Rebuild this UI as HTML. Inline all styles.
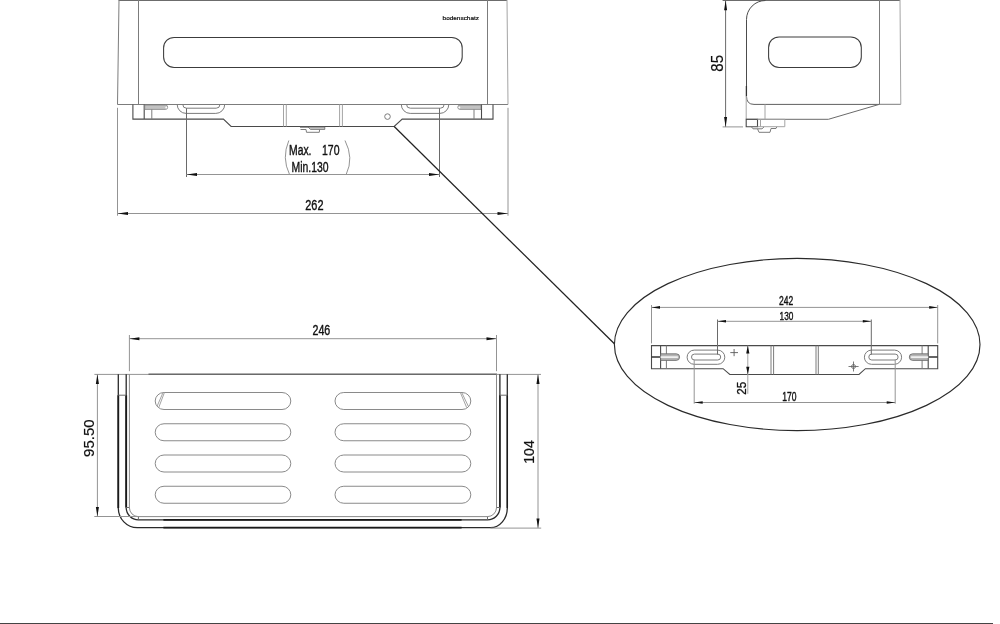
<!DOCTYPE html>
<html><head><meta charset="utf-8"><title>Drawing</title>
<style>
html,body{margin:0;padding:0;background:#fff;}
body{width:1000px;height:624px;overflow:hidden;}
svg{display:block;will-change:transform;}
text{font-family:"Liberation Sans",sans-serif;fill:#111;}
.n{stroke:#111;stroke-width:0.4;}
.r{stroke:#111;stroke-width:0.18;}
.l{stroke:#3c3c3c;stroke-width:1.05;fill:none;}
.m{stroke:#4a4a4a;stroke-width:1.1;fill:none;}
.b{stroke:#7c7c7c;stroke-width:1;fill:none;}
.d{stroke:#949494;stroke-width:1;fill:none;}
.e{stroke:#6a6a6a;stroke-width:1;fill:none;}
.s{stroke:#8a8a8a;stroke-width:1;fill:none;}
.g{stroke:#a4a4a4;stroke-width:1;fill:none;}
.a{fill:#111;stroke:none;}
</style></head><body>
<svg width="1000" height="624" viewBox="0 0 1000 624">
<rect width="1000" height="624" fill="#fff"/>
<g id="topview">
<path d="M118.700 0.500H507" stroke="#6c6c6c" stroke-width="1" fill="none"/>
<path class="b" d="M119 0L117.500 104.500H508"/>
<path class="g" d="M508 104.500L507 0"/>
<path class="b" d="M138.500 0V104.500M487.500 0V104.500"/>
<rect class="l" x="163.600" y="37.400" width="298.600" height="30.100" rx="10.500"/>
<path class="m" d="M132.900 104.500V119.100H223.400L231.100 126.500H394.200L402.200 119.100H493V104.500"/>
<path class="m" d="M144.200 104.500V119.100M481.500 104.500V119.100"/>
<path class="b" d="M151.800 109V119.100M474 109V119.100"/>
<path d="M144.700 105H165.500a2.200 2.200 0 0 1 0 4.400H144.700Z" fill="#c2c2c2" stroke="#7a7a7a" stroke-width="0.700"/>
<circle cx="166.300" cy="107.400" r="1" fill="#fff"/>
<path d="M481 105H460a2.200 2.200 0 0 0 0 4.400H481Z" fill="#c2c2c2" stroke="#7a7a7a" stroke-width="0.700"/>
<circle cx="459.300" cy="107.400" r="1" fill="#fff"/>
<path class="b" d="M177.200 104.500a8.900 8.900 0 0 0 8.900 8.900H215.800a8.900 8.900 0 0 0 8.900-8.900"/>
<path class="b" d="M182.800 104.500a3.700 3.700 0 0 0 3.700 3.700H216.200a3.700 3.700 0 0 0 3.700-3.700"/>
<path class="b" d="M401.300 104.500a8.900 8.900 0 0 0 8.900 8.900H439.900a8.900 8.900 0 0 0 8.900-8.900"/>
<path class="b" d="M406.600 104.500a3.700 3.700 0 0 0 3.700 3.700H440.400a3.700 3.700 0 0 0 3.700-3.700"/>
<path class="g" d="M283.500 104.500V126.500M286.300 104.500V126.500M339.600 104.500V126.500M342.400 104.500V126.500"/>
<circle class="b" cx="387.500" cy="116.600" r="2.800"/>
<path d="M308 127L310.500 129.400H324.800V127Z" fill="#ccc" stroke="#666" stroke-width="0.800"/>
<path class="b" d="M306 129.400L306.500 132.300H319.300L319.600 129.400M300 127.300H308M300.500 129.500H306"/>
</g>
<g id="topdims">
<path class="d" d="M117.500 107.800V215.700M508 107.800V215.700M117.500 213.500H508"/>
<path class="a" d="M117.500 213.500l10.500-1.400v2.800zM508 213.500l-10.500-1.400v2.800z"/>
<path class="e" d="M186.500 108.200V177M439.500 108.200V177"/>
<path class="d" d="M186.500 174.500H439.500"/>
<path class="a" d="M186.500 174.500l10.500-1.400v2.800zM439.500 174.500l-10.500-1.400v2.800z"/>
<path class="d" d="M288.800 140.500Q281.500 158 289.500 174.400M345 140.500Q354 158 346.200 174.400"/>
<text class="n" x="289" y="154.700" font-size="15.200" textLength="22.500" lengthAdjust="spacingAndGlyphs">Max.</text>
<text class="n" x="322" y="154.700" font-size="15.200" textLength="17.500" lengthAdjust="spacingAndGlyphs">170</text>
<text class="n" x="291.500" y="171.700" font-size="15.200" textLength="37" lengthAdjust="spacingAndGlyphs">Min.130</text>
<text class="n" x="305.200" y="209.800" font-size="15.200" textLength="18.300" lengthAdjust="spacingAndGlyphs">262</text>
<text x="442.600" y="20.400" font-size="6.200" textLength="36.400" lengthAdjust="spacingAndGlyphs" fill="#111" stroke="#111" stroke-width="0.220">bodenschatz</text>
<path d="M394.200 126.500L614.400 343.800" stroke="#222" stroke-width="1.250" fill="none"/>
</g>
<g id="sideview">
<path d="M722.600 0.500H900" stroke="#6c6c6c" stroke-width="1" fill="none"/>
<path d="M765.500 0.500A19 19 0 0 0 746.500 19.500V96.300" stroke="#4c4c4c" stroke-width="1" fill="none"/>
<path d="M746.400 86V96.300" stroke="#333" stroke-width="1.300" fill="none"/>
<path d="M746.500 96.300Q746.500 104.400 754 104.400H879.500" stroke="#606060" stroke-width="1" fill="none"/>
<path class="b" d="M879.500 0V104.300H900.800"/>
<path class="g" d="M900.800 104.300L900 0"/>
<rect class="l" x="768.600" y="36.900" width="92.700" height="30.600" rx="10.500"/>
<path class="g" d="M746.200 96V119.300"/>
<path class="e" d="M746.200 119.300H828.400L879.500 104.300"/>
<path class="g" d="M765 104.400V119.300"/>
<path class="m" d="M746.200 119.300H757.500V126.700H746.200Z"/>
<path class="g" d="M757.500 119.300H784.800V126.700H757.500M760.500 119.300V126.700"/>
<path class="b" d="M751.500 126.900L753 128.800H762L764 126.900M757.500 128.800L759 132.300H770L771 128.500H776L776.700 126.900"/>
<path class="e" d="M725.600 0V126.900"/>
<path class="d" d="M722.600 126.900H743"/>
<path class="a" d="M725.600 0.500l-1.500 9.800h3zM725.600 126.900l-1.500-9.800h3z"/>
<text class="r" transform="translate(722.500 71.700) rotate(-90)" font-size="16" textLength="16.800" lengthAdjust="spacingAndGlyphs">85</text>
</g>
<g id="detail">
<ellipse cx="797.200" cy="344.500" rx="182.800" ry="86.100" stroke="#2a2a2a" stroke-width="1.150" fill="none"/>
<path class="m" d="M651.500 345.600H937.700V368.700H865.400L859 374.500H729.800L723.100 368.700H651.500Z"/>
<path class="m" d="M660.600 345.600V368.600M928.200 345.600V368.600"/>
<path d="M651.500 357H660.600M928.200 357H937.700" stroke="#333" stroke-width="1.500" fill="none"/>
<path class="b" d="M666.400 345.600V368.600M922.100 345.600V368.600"/>
<path d="M660.600 353.800H676.300a3.300 3.300 0 0 1 0 6.600H660.600Z" fill="#b4b4b4" stroke="#666" stroke-width="0.800"/>
<path d="M660.600 356.200H677.300a0.900 0.900 0 0 1 0 1.800H660.600Z" fill="#f0f0f0" stroke="none"/>
<path d="M928.200 353.800H912.600a3.300 3.300 0 0 0 0 6.600H928.200Z" fill="#b4b4b4" stroke="#666" stroke-width="0.800"/>
<path d="M928.200 356.200H911.600a0.900 0.900 0 0 0 0 1.800H928.200Z" fill="#f0f0f0" stroke="none"/>
<rect class="b" x="687.100" y="350.100" width="37.700" height="14.200" rx="7.100"/>
<rect class="b" x="691.500" y="354.100" width="29.200" height="5.900" rx="2.950"/>
<rect class="b" x="864.400" y="350.100" width="37.200" height="14.200" rx="7.100"/>
<rect class="b" x="868.800" y="354.100" width="29.300" height="5.900" rx="2.950"/>
<path class="b" d="M771 345.600V374.500M773.600 345.600V374.500M816 345.600V374.500M818.300 345.600V374.500"/>
<path d="M730.300 352.600H738M734.100 349V356.200" stroke="#5a5a5a" stroke-width="0.900" fill="none"/>
<path d="M848.500 366.500H858.600M853.500 361.500V371.500" stroke="#6c6c6c" stroke-width="0.900" fill="none"/>
<circle cx="853.500" cy="366.500" r="2" stroke="#606060" stroke-width="0.800" fill="none"/>
<path class="d" d="M651.500 305V343.400M937.700 305V343.400"/>
<path class="d" d="M651.500 307.400H937.700"/>
<path class="a" d="M651.500 307.400l8.500-1.300v2.600zM937.700 307.400l-8.500-1.300v2.600z"/>
<path class="e" d="M717.500 319.500V354.600M871.300 319.500V354.600"/>
<path class="d" d="M717.500 321.300H871.300"/>
<path class="a" d="M717.500 321.300l8.500-1.300v2.600zM871.300 321.300l-8.500-1.300v2.600z"/>
<path class="d" d="M694.200 359.500V403.700M895.200 359.500V403.700"/>
<path class="d" d="M694.200 402.500H895.200"/>
<path class="a" d="M694.200 402.500l8.500-1.300v2.600zM895.200 402.500l-8.500-1.300v2.600z"/>
<path class="g" d="M747.800 345.600V393.800"/>
<path class="a" d="M747.800 345.600l-1.600 7.800h3.200zM747.800 374.500l-1.600-7.800h3.200z"/>
<text class="n" x="779" y="305.100" font-size="12" textLength="14.200" lengthAdjust="spacingAndGlyphs">242</text>
<text class="n" x="779.600" y="319.600" font-size="11.800" textLength="13.800" lengthAdjust="spacingAndGlyphs">130</text>
<text class="n" x="782.300" y="400.700" font-size="12.200" textLength="14.200" lengthAdjust="spacingAndGlyphs">170</text>
<text transform="translate(745.900 394.700) rotate(-90)" font-size="12" stroke="#111" stroke-width="0.300" textLength="12.900" lengthAdjust="spacingAndGlyphs">25</text>
</g>
<g id="bottomview">
<path class="d" d="M94.400 374.400H541"/>
<path d="M148.500 374.300H497" stroke="#6a6a6a" stroke-width="1.400" fill="none"/>
<path d="M118.300 374.300V507.900A19 19.800 0 0 0 137.300 527.700H490.500A16.800 19.800 0 0 0 507.300 507.900V374.300" stroke="#2a2a2a" stroke-width="1.300" fill="none"/>
<path d="M126.200 374.300V507.600A12.200 12.200 0 0 0 138.400 519.800H487.500A12.400 12.200 0 0 0 499.900 507.600V374.300" stroke="#2a2a2a" stroke-width="1.300" fill="none"/>
<path d="M118.300 395.200V507.900M126.200 395.200V507.600M163.400 527.700H461.600M163.400 519.800H461.600" stroke="#1a1a1a" stroke-width="1.800" fill="none"/>
<path d="M507.300 395.200V507.900M499.900 395.200V507.600" stroke="#1a1a1a" stroke-width="1.450" fill="none"/>
<path class="s" d="M129.400 374.300V507.600A8.900 9 0 0 0 138.300 516.600H487.500A9 9 0 0 0 496.500 507.600V374.300"/>
<path class="e" d="M118.300 395.200H126.200M499.900 395.200H507.300M126.200 507.500H129.400M496.500 507.500H499.900M138.400 516.600V519.800M487.500 516.600V519.800"/>
<rect class="s" x="155.200" y="392.50" width="135.600" height="17" rx="8.800" ry="8.500"/>
<rect class="s" x="335" y="392.50" width="135.800" height="17" rx="8.800" ry="8.500"/>
<rect class="s" x="155.200" y="423.75" width="135.600" height="17" rx="8.800" ry="8.500"/>
<rect class="s" x="335" y="423.75" width="135.800" height="17" rx="8.800" ry="8.500"/>
<rect class="s" x="155.200" y="455.00" width="135.600" height="17" rx="8.800" ry="8.500"/>
<rect class="s" x="335" y="455.00" width="135.800" height="17" rx="8.800" ry="8.500"/>
<rect class="s" x="155.200" y="486.25" width="135.600" height="17" rx="8.800" ry="8.500"/>
<rect class="s" x="335" y="486.25" width="135.800" height="17" rx="8.800" ry="8.500"/>
<path class="g" d="M164.400 392.600L158.700 407.600M162.900 392.900L157.200 406M460.400 392.600L466.700 407.600M461.900 392.900L468.200 406"/>
<path class="d" d="M129.400 335V371.200M496.500 335V371.200"/>
<path class="d" d="M129.400 338.700H496.500"/>
<path class="a" d="M129.400 338.700l10-1.500v3zM496.500 338.700l-10-1.500v3z"/>
<path class="d" d="M97.400 374.300V516.500M94.300 516.500H138"/>
<path class="a" d="M97.400 374.300l-1.550 9.600h3.100zM97.400 516.500l-1.550-9.600h3.100z"/>
<path class="d" d="M538 374.300V528.100M490.500 528.100H541.200"/>
<path class="a" d="M538 374.300l-1.550 9.600h3.100zM538 528.100l-1.550-9.600h3.100z"/>
<text class="n" x="312.500" y="335.100" font-size="14.200" textLength="17.800" lengthAdjust="spacingAndGlyphs">246</text>
<text class="r" transform="translate(94.300 456.900) rotate(-90)" font-size="15.400" textLength="37.400" lengthAdjust="spacingAndGlyphs">95.50</text>
<text class="r" transform="translate(534.300 463.800) rotate(-90)" font-size="15" textLength="23.600" lengthAdjust="spacingAndGlyphs">104</text>
</g>
<path d="M0 623.500H993" stroke="#444" stroke-width="1" fill="none"/>
</svg>
</body></html>
